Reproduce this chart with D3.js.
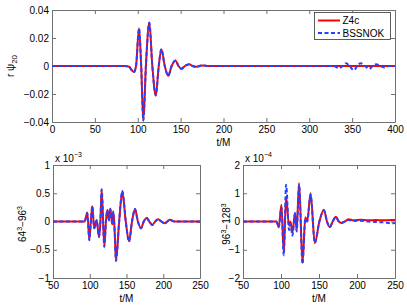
<!DOCTYPE html>
<html>
<head>
<meta charset="utf-8">
<script src="https://cdn.jsdelivr.net/npm/d3@7"></script>
<style>
  body { margin: 0; background: #fff; }
  svg text { font-family: "Liberation Sans", Arial, sans-serif; }
</style>
</head>
<body>
<div id="chart"></div>
<script>
// ---- data ----

// top panel: r psi_20 vs t/M
let topT =   [0, 85, 90, 93, 95.5, 98, 101.5, 104, 106.5, 109.5, 113.5, 117, 121, 124.5, 127.5, 131.5, 135.5, 139.5, 144, 147.5, 151, 155, 160, 164, 168, 172, 176, 182, 190, 400];
let topZ4c = [0, 0, -0.0005, -0.003, -0.0043, 0, 0.027, 0, -0.039, 0, 0.031, 0, -0.021, 0, 0.012, 0, -0.007, 0, 0.004, 0, -0.002, 0, 0.0012, 0, -0.0006, 0, 0.0004, 0, 0, 0];
// BSSNOK has the same burst plus a late wiggle
let topBssT =   [0, 85, 90, 93, 95.5, 98, 101.5, 104, 106.5, 109.5, 113.5, 117, 121, 124.5, 127.5, 131.5, 135.5, 139.5, 144, 147.5, 151, 155, 160, 164, 168, 172, 176, 182, 190, 320, 328, 335, 339, 343, 347, 352, 356, 360, 365, 370, 374, 378, 383, 388, 393, 400];
let topBss =    [0, 0, -0.0005, -0.003, -0.0043, 0, 0.027, 0, -0.039, 0, 0.031, 0, -0.021, 0, 0.012, 0, -0.007, 0, 0.004, 0, -0.002, 0, 0.0012, 0, -0.0006, 0, 0.0004, 0, 0, 0, 0, -0.0015, 0, 0.002, 0, -0.003, 0, 0.002, 0, -0.002, 0, 0.0012, 0, -0.001, 0, 0];

// bottom left: 64^3 - 96^3 (x 10^-3)
let blT =   [50, 90, 93, 96.7, 99.4, 101.5, 103.5, 106, 109.4, 112.6, 114.5, 116.2, 119.8, 122, 123.9, 126.2, 128, 130.7, 132, 134, 135.7, 140, 144.3, 149, 153.4, 157.5, 161.6, 165.5, 169.7, 173.5, 177.5, 181, 185, 189, 193, 197.5, 202, 205.5, 209, 215, 250];
let blZ4c = [0, 0, 0, 0.16, -0.32, 0, 0.27, -0.12, 0.02, -0.28, 0, 0.56, -0.44, 0, 0.21, 0.02, 0.23, -0.05, 0.18, -0.2, -0.69, 0, 0.53, 0, -0.35, 0, 0.22, 0, -0.12, 0, 0.06, 0, -0.06, 0, 0.04, 0, -0.03, 0, 0.03, 0, 0];
let blBss = [0, 0, 0, 0.15, -0.33, 0, 0.28, -0.12, 0.02, -0.27, 0, 0.57, -0.45, 0, 0.2, 0.02, 0.22, -0.05, 0.17, -0.2, -0.7, 0, 0.54, 0, -0.36, 0, 0.22, 0, -0.12, 0, 0.06, 0, -0.06, 0, 0.04, 0, -0.03, 0, 0.03, 0, 0];

// bottom right: 96^3 - 128^3 (x 10^-4)
let brT =   [50, 92, 94, 97, 100.6, 103.6, 106.7, 110.6, 112.5, 115, 118.5, 120.6, 123.8, 128.3, 132, 134.5, 138.9, 144.5, 150.5, 156.4, 160.5, 164.3, 168, 172.2, 176, 179.7, 184, 189, 195, 205, 215, 225, 235, 245, 250];
let brZ4c = [0, 0, 0, -0.2, 0.59, -1.12, 0.88, -0.15, 0, -0.4, 0.3, -0.3, 1.36, -1.47, 0.15, 0, 1.0, -0.77, 0, 0.42, 0, -0.2, 0, 0.17, 0, -0.05, 0, 0.08, 0.04, 0.06, 0.04, 0.05, 0.04, 0.05, 0.05];
let brBss = [0, 0, 0, -0.2, 0.5, -1.2, 1.3, -0.3, -0.1, -0.5, 0.3, -0.35, 1.3, -1.5, 0.1, 0, 0.95, -0.75, 0, 0.4, 0, -0.2, 0, 0.15, 0, -0.05, 0, 0.05, 0.02, 0.03, 0, -0.02, -0.03, -0.06, -0.05];

// tick values
let topXTicks = [0, 50, 100, 150, 200, 250, 300, 350, 400];
let topYTicks = [-0.04, -0.02, 0, 0.02, 0.04];
let botXTicks = [50, 100, 150, 200, 250];
let blYTicks = [-1, -0.5, 0, 0.5, 1];
let brYTicks = [-2, -1, 0, 1, 2];

let seriesNames = ["Z4c", "BSSNOK"];

// ---- drawing ----
let svgWidth = 407;
let svgHeight = 307;
let red = "#ff0000";
let blue = "#2442ff";
let axisColor = "#707070";

let svg = d3.select("#chart")
  .append("svg")
  .attr("width", svgWidth)
  .attr("height", svgHeight);

let clipId = 0;

function drawPanel(cfg) {
  let x = d3.scaleLinear().domain(cfg.xDomain).range([cfg.left, cfg.right]);
  let y = d3.scaleLinear().domain(cfg.yDomain).range([cfg.bottom, cfg.top]);
  let fmt = d3.format("~g");

  // axes, ticks pointing inwards like matlab
  let gb = svg.append("g").attr("transform", `translate(0,${cfg.bottom})`)
    .call(d3.axisBottom(x).tickValues(cfg.xTicks).tickSizeInner(-4).tickSizeOuter(0).tickPadding(4).tickFormat(fmt));
  let gt = svg.append("g").attr("transform", `translate(0,${cfg.top})`)
    .call(d3.axisTop(x).tickValues(cfg.xTicks).tickSizeInner(-4).tickSizeOuter(0).tickFormat(""));
  let gl = svg.append("g").attr("transform", `translate(${cfg.left},0)`)
    .call(d3.axisLeft(y).tickValues(cfg.yTicks).tickSizeInner(-4).tickSizeOuter(0).tickPadding(3).tickFormat(fmt));
  let gr = svg.append("g").attr("transform", `translate(${cfg.right},0)`)
    .call(d3.axisRight(y).tickValues(cfg.yTicks).tickSizeInner(-4).tickSizeOuter(0).tickFormat(""));

  [gb, gt, gl, gr].forEach(g => {
    g.selectAll("path, line").attr("stroke", axisColor);
    g.selectAll("text").attr("fill", "#000").style("font-size", "10px")
      .style("font-family", '"Liberation Sans", Arial, sans-serif');
  });

  // clip for the curves
  let id = "clip" + (clipId++);
  svg.append("clipPath").attr("id", id)
    .append("rect")
    .attr("x", cfg.left).attr("y", cfg.top)
    .attr("width", cfg.right - cfg.left).attr("height", cfg.bottom - cfg.top);

  let line = d3.line()
    .x(d => x(d[0]))
    .y(d => y(d[1]))
    .curve(d3.curveMonotoneX);

  svg.append("path")
    .datum(d3.zip(cfg.t1, cfg.v1))
    .attr("clip-path", `url(#${id})`)
    .attr("d", line)
    .attr("fill", "none")
    .attr("stroke", red)
    .attr("stroke-width", 2);

  svg.append("path")
    .datum(d3.zip(cfg.t2, cfg.v2))
    .attr("clip-path", `url(#${id})`)
    .attr("d", line)
    .attr("fill", "none")
    .attr("stroke", blue)
    .attr("stroke-width", 2)
    .attr("stroke-dasharray", "4,2.5");

  // x label
  svg.append("text")
    .attr("x", (cfg.left + cfg.right) / 2)
    .attr("y", cfg.bottom + 24)
    .attr("text-anchor", "middle")
    .style("font-size", "10px")
    .text("t/M");

  return {x, y};
}

// top panel
drawPanel({
  left: 52, right: 395, top: 10, bottom: 122,
  xDomain: [0, 400], yDomain: [-0.04, 0.04],
  xTicks: topXTicks, yTicks: topYTicks,
  t1: topT, v1: topZ4c, t2: topBssT, v2: topBss
});

// bottom left
drawPanel({
  left: 53, right: 200, top: 165, bottom: 278,
  xDomain: [50, 250], yDomain: [-1, 1],
  xTicks: botXTicks, yTicks: blYTicks,
  t1: blT, v1: blZ4c, t2: blT, v2: blBss
});

// bottom right
drawPanel({
  left: 243, right: 395, top: 165, bottom: 278,
  xDomain: [50, 250], yDomain: [-2, 2],
  xTicks: botXTicks, yTicks: brYTicks,
  t1: brT, v1: brZ4c, t2: brT, v2: brBss
});

// y labels (rotated)
let yl = svg.append("text")
  .attr("transform", "translate(14,66) rotate(-90)")
  .attr("text-anchor", "middle")
  .style("font-size", "10px");
yl.append("tspan").text("r \u03c8");
yl.append("tspan").attr("dy", 3).style("font-size", "8px").text("20");

function powLabel(xp, yp, a, b) {
  let t = svg.append("text")
    .attr("transform", `translate(${xp},${yp}) rotate(-90)`)
    .attr("text-anchor", "middle")
    .style("font-size", "10px");
  t.append("tspan").text(a);
  t.append("tspan").attr("dy", -4).style("font-size", "7px").text("3");
  t.append("tspan").attr("dy", 4).text("\u2212" + b);
  t.append("tspan").attr("dy", -4).style("font-size", "7px").text("3");
}
powLabel(26, 224, "64", "96");
powLabel(230, 224, "96", "128");

// exponent labels
function expLabel(xp, e) {
  let t = svg.append("text")
    .attr("x", xp).attr("y", 162)
    .style("font-size", "10px");
  t.append("tspan").text("x 10");
  t.append("tspan").attr("dy", -5).style("font-size", "7px").text("\u2212" + e);
}
expLabel(55, 3);
expLabel(245, 4);

// legend
let legend = svg.append("g");
legend.append("rect")
  .attr("x", 314.5).attr("y", 12.5)
  .attr("width", 76).attr("height", 27)
  .attr("fill", "#fff")
  .attr("stroke", "#333")
  .attr("stroke-width", 0.8);

seriesNames.forEach((name, i) => {
  let ly = 20.5 + i * 12.5;
  legend.append("line")
    .attr("x1", 318).attr("x2", 340)
    .attr("y1", ly).attr("y2", ly)
    .attr("stroke", i === 0 ? red : blue)
    .attr("stroke-width", 2)
    .attr("stroke-dasharray", i === 0 ? null : "4,2.5");
  legend.append("text")
    .attr("x", 342.5).attr("y", ly + 3.5)
    .style("font-size", "10px")
    .text(name);
});
</script>
</body>
</html>
